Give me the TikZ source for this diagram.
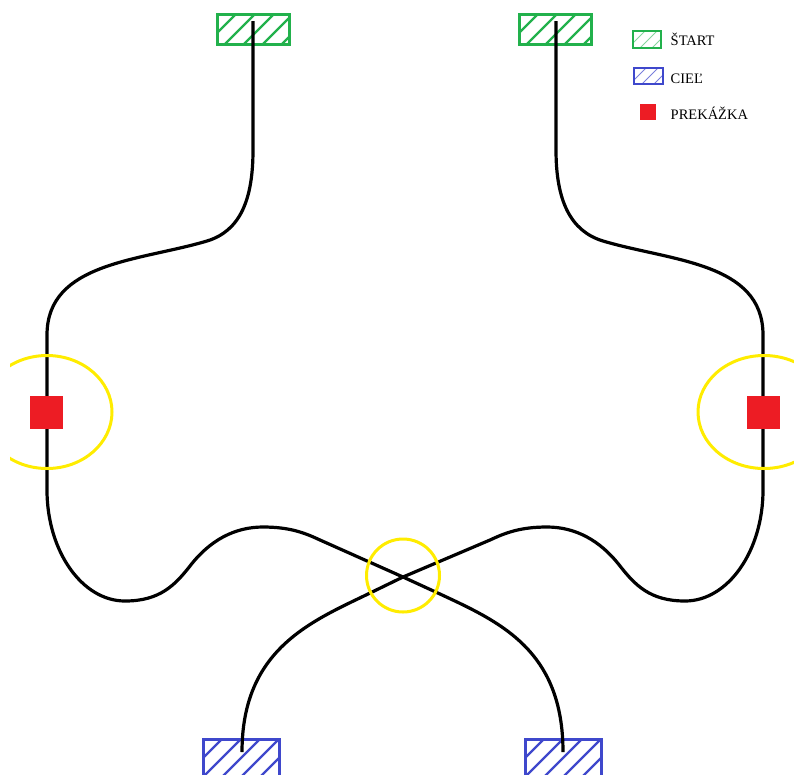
\documentclass[tikz,border=0pt]{standalone}
\usepackage{fontspec}
\setmainfont{Liberation Serif}
\definecolor{startgreen}{RGB}{34,177,76}
\definecolor{goalblue}{RGB}{63,72,204}
\definecolor{obstred}{RGB}{237,28,36}
\definecolor{zoneyellow}{RGB}{255,236,0}
% hatched rectangle: #1 colour, #2 x1, #3 y1, #4 x2, #5 y2, #6 spacing, #7 hatch style, #8 border width
\newcommand\hatchrect[8]{%
  \begin{scope}
    \clip (#2,#3) rectangle (#4,#5);
    \pgfmathsetmacro\hatchH{#5-#3}
    \foreach \k in {0,...,14}
      \draw[#7] ({#2-\hatchH+\k*#6},#5) -- ++(\hatchH,-\hatchH);
  \end{scope}
  \draw[#1, line width=#8] (#2,#3) rectangle (#4,#5);
}
\tikzset{
  route/.style={black, line width=3.2pt, line cap=butt},
  zone/.style={zoneyellow, line width=3pt},
  obstacle/.style={fill=obstred, draw=none, minimum width=33pt, minimum height=33pt, inner sep=0pt},
  legendtext/.style={anchor=base west, inner sep=0pt, font=\fontsize{14.5}{16}\selectfont},
}
\begin{document}
\begin{tikzpicture}[x=1pt, y=-1pt]
\useasboundingbox (0,0) rectangle (794,774);
\clip (10,0) rectangle (794,774);

% start and goal areas
\hatchrect{startgreen}{217}{14}{289}{44}{19}{startgreen, line width=2.4pt}{3pt}
\hatchrect{startgreen}{519}{14}{591}{44}{19}{startgreen, line width=2.4pt}{3pt}
\hatchrect{goalblue}{203}{739}{279}{800}{19}{goalblue, line width=2.4pt}{3pt}
\hatchrect{goalblue}{525}{739}{601}{800}{19}{goalblue, line width=2.4pt}{3pt}

\coordinate (sL) at (253,21);
\coordinate (sR) at (556,21);
\coordinate (gL) at (242,752);
\coordinate (gR) at (563,752);
\coordinate (x) at (403,577);

% route from the left start to the right goal
\draw[route] (sL) -- (253,150)
  .. controls (253,200) and (240,231) .. (207,241)
  .. controls (140,261) and (47,262) .. (47,335)
  -- (47,490)
  .. controls (47,551) and (82,601) .. (125,601)
  .. controls (160,601) and (175,585) .. (190,566)
  .. controls (210,540) and (235,527) .. (263,527)
  .. controls (290,527) and (305,533) .. (320,540)
  -- (x) -- (440,594)
  .. controls (500,622) and (563,650) .. (gR);

% route from the right start to the left goal
\draw[route] (sR) -- (556,150)
  .. controls (556,200) and (570,231) .. (603,241)
  .. controls (670,261) and (763,262) .. (763,335)
  -- (763,490)
  .. controls (763,551) and (728,601) .. (685,601)
  .. controls (650,601) and (635,585) .. (620,566)
  .. controls (600,540) and (575,527) .. (547,527)
  .. controls (520,527) and (505,533) .. (490,540)
  -- (x) -- (368,594)
  .. controls (310,622) and (242,650) .. (gL);

% danger zones
\draw[zone] (47,412) ellipse [x radius=65, y radius=56.5];
\draw[zone] (764,412) ellipse [x radius=66, y radius=56.5];
\draw[zone] (x) ++(0,-1.5) circle [radius=36.5];

% obstacles
\node[obstacle] (oL) at (46.5,412) {};
\node[obstacle] (oR) at (763.5,412) {};

% legend
\hatchrect{startgreen}{633}{31}{661}{48}{12}{startgreen!55, line width=0.8pt}{2.2pt}
\hatchrect{goalblue}{634}{68}{663}{84}{12}{goalblue!70, line width=0.8pt}{2.2pt}
\node[fill=obstred, minimum width=16pt, minimum height=16pt, inner sep=0pt] (lgO) at (648,112) {};
\node[legendtext] (lgS) at (670.5,45) {ŠTART};
\node[legendtext] (lgG) at (670.5,83) {CIEĽ};
\node[legendtext] (lgP) at (670.5,119) {PREKÁŽKA};
\end{tikzpicture}
\end{document}
